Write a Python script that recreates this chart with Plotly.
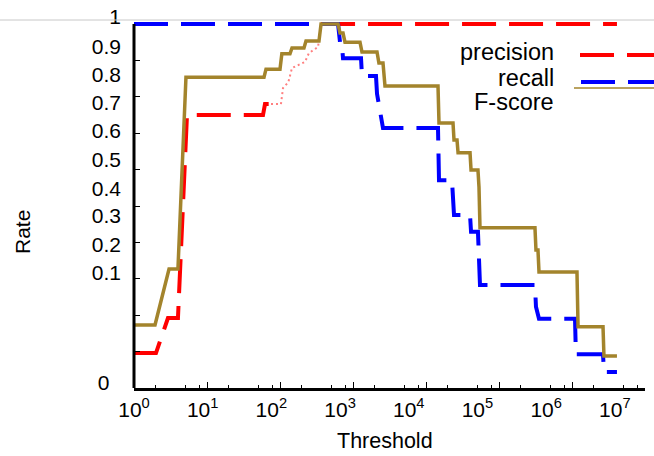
import plotly.graph_objects as go

# ---------------- data ----------------
precision_threshold = [1, 2.0, 2.92, 4.0, 5.32, 58.5, 62.3, 75.3, 103, 110, 130, 146, 220, 249,
                       332, 365, 4.13e6]
precision = [0.096, 0.096, 0.192, 0.192, 0.75, 0.75, 0.78, 0.78, 0.78, 0.824, 0.84, 0.879,
             0.896, 0.92, 0.937, 1.0, 1.0]
# index range of the finely stepped part of the precision curve (drawn dotted in the reference)
precision_fine_start = 7
precision_fine_end = 15

recall_threshold = [1, 624, 664, 700, 730, 1288, 1328, 2065, 2133, 2343, 2576, 14600, 15070,
                    22700, 23440, 24200, 40100, 41400, 51500, 53200, 54900, 311000, 321000,
                    353000, 1.1e6, 1.13e6, 2.66e6, 2.74e6, 4.13e6]
recall = [1.0, 1.0, 0.95, 0.95, 0.906, 0.906, 0.857, 0.857, 0.808, 0.758, 0.714, 0.714, 0.571,
          0.571, 0.525, 0.475, 0.475, 0.429, 0.429, 0.374, 0.283, 0.283, 0.223, 0.19, 0.19,
          0.093, 0.093, 0.044, 0.044]

fscore_threshold = [1, 1.94, 3.02, 4.0, 5.15, 60.4, 64.3, 100, 106, 137, 146, 213, 227, 342,
                    365, 624, 664, 730, 777, 1247, 1328, 2133, 2265, 2576, 2742, 14600, 15070,
                    23440, 24200, 26600, 27500, 40100, 41400, 51500, 53200, 54900, 311000,
                    321000, 342000, 353000, 1.17e6, 1.21e6, 2.66e6, 2.74e6, 4.13e6]
fscore = [0.173, 0.173, 0.327, 0.327, 0.854, 0.854, 0.876, 0.876, 0.918, 0.918, 0.934, 0.934,
          0.953, 0.953, 1.0, 1.0, 0.975, 0.975, 0.95, 0.95, 0.923, 0.923, 0.893, 0.893, 0.83,
          0.83, 0.728, 0.728, 0.681, 0.681, 0.646, 0.646, 0.599, 0.599, 0.552, 0.44, 0.44,
          0.379, 0.379, 0.319, 0.319, 0.168, 0.168, 0.088, 0.088]

series_names = ["precision", "recall", "F-score"]

# tick marks (true positions) and tick labels (positions where the labels are printed)
x_major_ticks = [1, 10, 100, 1e3, 1e4, 1e5, 1e6, 1e7]
x_minor_ticks = [m * 10 ** k for k in range(7) for m in (2, 5, 8)]
x_label_vals = [10 ** (0.941 * k) for k in range(8)]
x_label_text = ["10<sup>%d</sup>" % k for k in range(8)]

y_tick_marks = [0.1, 0.2, 0.3, 0.4, 0.5, 0.6, 0.7, 0.8, 0.9]
y_label_vals = [0.016, 0.316, 0.393, 0.473, 0.549, 0.626, 0.706, 0.783, 0.860, 0.937, 1.019]
y_label_text = ["0&nbsp;&nbsp;", "0.1", "0.2", "0.3", "0.4", "0.5", "0.6", "0.7", "0.8", "0.9", "1"]

# ---------------- figure ----------------
RED = "#ff0000"
BLUE = "#0000ff"
BROWN = "#a3842c"
DASH = "34px,13px"
FONT = "Liberation Sans, Arial, sans-serif"

s, e = precision_fine_start, precision_fine_end
fig = go.Figure()
fig.add_trace(go.Scatter(x=precision_threshold[:s + 1], y=precision[:s + 1], mode="lines",
                         name=series_names[0], line=dict(color=RED, width=4, dash=DASH),
                         hoverinfo="skip"))
fig.add_trace(go.Scatter(x=precision_threshold[s:e + 1], y=precision[s:e + 1], mode="lines",
                         name=series_names[0], line=dict(color="#ff8080", width=2, dash="2px,3px"),
                         hoverinfo="skip"))
fig.add_trace(go.Scatter(x=precision_threshold[e:], y=precision[e:], mode="lines",
                         name=series_names[0], line=dict(color=RED, width=4, dash=DASH),
                         hoverinfo="skip"))
fig.add_trace(go.Scatter(x=recall_threshold, y=recall, mode="lines", name=series_names[1],
                         line=dict(color=BLUE, width=4, dash=DASH), hoverinfo="skip"))
fig.add_trace(go.Scatter(x=fscore_threshold, y=fscore, mode="lines", name=series_names[2],
                         line=dict(color=BROWN, width=3.5), hoverinfo="skip"))
# empty trace so that the label axis is created
fig.add_trace(go.Scatter(x=[], y=[], xaxis="x2", yaxis="y", showlegend=False, hoverinfo="skip"))

PX_UNIT = 364.0
Y_TOP = 382.0 / PX_UNIT

fig.update_layout(
    width=654, height=456,
    margin=dict(l=134, r=9, t=6, b=68, pad=0, autoexpand=False),
    paper_bgcolor="white", plot_bgcolor="white",
    showlegend=False,
    font=dict(family=FONT, size=21, color="black"),
    xaxis=dict(type="log", range=[0, 7], showgrid=False, zeroline=False, automargin=False,
               showline=True, linecolor="black", linewidth=3,
               tickmode="array", tickvals=x_major_ticks, showticklabels=False,
               ticks="inside", ticklen=6, tickwidth=1, tickcolor="black",
               minor=dict(tickmode="array", tickvals=x_minor_ticks, ticks="inside",
                          ticklen=3, tickwidth=1, tickcolor="black")),
    xaxis2=dict(type="log", range=[0, 7], overlaying="x", anchor="y", side="bottom",
                showgrid=False, zeroline=False, showline=False, automargin=False,
                tickmode="array", tickvals=x_label_vals, ticktext=x_label_text,
                ticks="", ticklabelstandoff=7, tickfont=dict(family=FONT, size=21)),
    yaxis=dict(range=[0, Y_TOP], showgrid=False, zeroline=False, showline=False,
               automargin=False,
               tickmode="array", tickvals=y_label_vals, ticktext=y_label_text,
               ticks="", ticklabelstandoff=12, tickfont=dict(family=FONT, size=21),
               minor=dict(tickmode="array", tickvals=y_tick_marks, ticks="inside",
                          ticklen=6, tickwidth=1, tickcolor="black")),
)

def px_to_y(py):
    return (388.0 - py) / PX_UNIT

def px_to_paper_y(py):
    return (388.0 - py) / 382.0

def px_to_paper_x(px):
    return (px - 134.0) / 511.0

shapes = [
    # left axis line (from 0 to 1)
    dict(type="line", xref="paper", yref="y", x0=0, x1=0, y0=-0.009, y1=1.0,
         line=dict(color="black", width=3)),
    # thin grey line at the top of the picture
    dict(type="line", xref="paper", yref="y", x0=px_to_paper_x(0), x1=px_to_paper_x(660),
         y0=px_to_y(20), y1=px_to_y(20), line=dict(color="#c8c8c8", width=1)),
    # legend samples
    dict(type="line", xref="paper", yref="y", x0=px_to_paper_x(580), x1=px_to_paper_x(662),
         y0=px_to_y(55), y1=px_to_y(55), line=dict(color=RED, width=4, dash=DASH)),
    dict(type="line", xref="paper", yref="y", x0=px_to_paper_x(581), x1=px_to_paper_x(662),
         y0=px_to_y(82), y1=px_to_y(82), line=dict(color=BLUE, width=4, dash=DASH)),
    dict(type="line", xref="paper", yref="y", x0=px_to_paper_x(574), x1=px_to_paper_x(662),
         y0=px_to_y(88), y1=px_to_y(88), line=dict(color=BROWN, width=1.5)),
]
fig.update_layout(shapes=shapes)

annotations = [
    dict(text=series_names[0], x=px_to_paper_x(556), y=px_to_paper_y(52)),
    dict(text=series_names[1], x=px_to_paper_x(556), y=px_to_paper_y(78)),
    dict(text=series_names[2], x=px_to_paper_x(556), y=px_to_paper_y(102)),
]
for a in annotations:
    a.update(xref="paper", yref="paper", xanchor="right", yanchor="middle", showarrow=False,
             font=dict(family=FONT, size=23.5, color="black"))
annotations.append(dict(text="Rate", xref="paper", yref="paper", x=px_to_paper_x(22),
                        y=px_to_paper_y(232), textangle=-90, showarrow=False,
                        xanchor="center", yanchor="middle",
                        font=dict(family=FONT, size=21, color="black")))
annotations.append(dict(text="Threshold", xref="paper", yref="paper", x=px_to_paper_x(385),
                        y=px_to_paper_y(441), showarrow=False, xanchor="center",
                        yanchor="middle", font=dict(family=FONT, size=21.5, color="black")))
fig.update_layout(annotations=annotations)

# remove the browser's default 8px page margin so the figure sits at the window's corner
fig.write_html("out.html", config={"displayModeBar": False},
               post_script="document.body.style.margin='0';document.body.style.padding='0';")
